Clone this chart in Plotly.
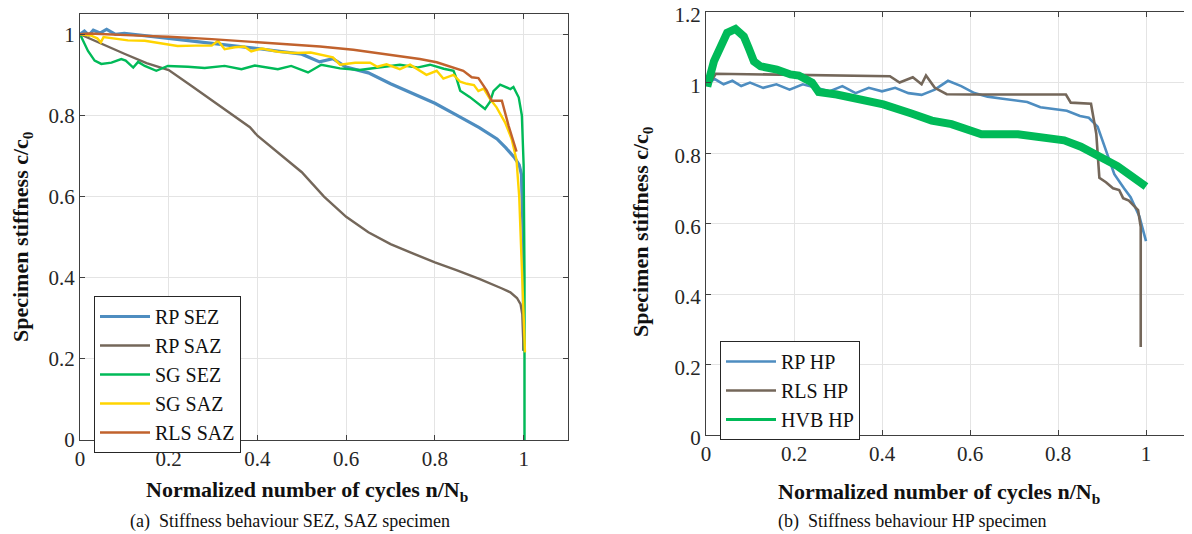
import plotly.graph_objects as go

# ---- (a) SEZ / SAZ specimens ----
rp_sez_x = [0, 0.01, 0.02, 0.03, 0.045, 0.06, 0.08, 0.1, 0.15, 0.2, 0.25, 0.3, 0.35, 0.4, 0.45, 0.5,
            0.54, 0.57, 0.6, 0.65, 0.7, 0.75, 0.8, 0.85, 0.9, 0.94, 0.96, 0.98, 0.99, 0.995, 0.999, 1.0]
rp_sez_y = [1.0, 1.008, 0.998, 1.01, 1.003, 1.012, 1.0, 1.002, 0.996, 0.99, 0.984, 0.977, 0.972, 0.965, 0.958, 0.951,
            0.932, 0.94, 0.919, 0.905, 0.878, 0.855, 0.83, 0.8, 0.77, 0.742, 0.72, 0.695, 0.678, 0.655, 0.5, 0.22]

rp_saz_x = [0, 0.05, 0.1, 0.15, 0.2, 0.25, 0.3, 0.35, 0.383, 0.4, 0.45, 0.5, 0.55, 0.6, 0.65, 0.7,
            0.75, 0.8, 0.85, 0.9, 0.95, 0.97, 0.985, 0.993, 0.997, 1.0]
rp_saz_y = [1.0, 0.975, 0.952, 0.929, 0.912, 0.874, 0.835, 0.795, 0.771, 0.75, 0.705, 0.66, 0.6, 0.55, 0.512, 0.483,
            0.46, 0.438, 0.418, 0.397, 0.374, 0.364, 0.35, 0.335, 0.31, 0.22]

sg_sez_x = [0, 0.01, 0.018, 0.033, 0.048, 0.071, 0.093, 0.103, 0.12, 0.131, 0.146, 0.172, 0.198, 0.243, 0.281,
            0.326, 0.364, 0.394, 0.42, 0.446, 0.476, 0.514, 0.544, 0.586, 0.63, 0.691, 0.721, 0.76, 0.789, 0.82,
            0.842, 0.849, 0.857, 0.879, 0.902, 0.913, 0.924, 0.932, 0.947, 0.958, 0.97, 0.977, 0.989, 0.996,
            1.0, 1.002, 1.002]
sg_sez_y = [1.0, 0.975, 0.959, 0.935, 0.927, 0.93, 0.939, 0.935, 0.918, 0.932, 0.922, 0.91, 0.922, 0.92, 0.917,
            0.922, 0.914, 0.923, 0.918, 0.914, 0.922, 0.906, 0.925, 0.916, 0.912, 0.92, 0.925, 0.918, 0.925, 0.915,
            0.91, 0.89, 0.861, 0.845, 0.824, 0.816, 0.833, 0.86, 0.876, 0.87, 0.865, 0.87, 0.844, 0.8,
            0.677, 0.4, 0.0]

sg_saz_x = [0, 0.024, 0.039, 0.047, 0.053, 0.071, 0.108, 0.146, 0.198, 0.22, 0.26, 0.297, 0.311, 0.326, 0.349,
            0.37, 0.386, 0.41, 0.446, 0.484, 0.52, 0.553, 0.57, 0.586, 0.62, 0.654, 0.67, 0.691, 0.721, 0.744,
            0.766, 0.781, 0.804, 0.819, 0.842, 0.857, 0.872, 0.888, 0.898, 0.91, 0.924, 0.939, 0.958, 0.973,
            0.984, 0.99, 1.003]
sg_saz_y = [1.0, 0.997, 0.99, 0.98, 0.993, 0.99, 0.985, 0.984, 0.975, 0.971, 0.972, 0.972, 0.984, 0.963, 0.968,
            0.97, 0.958, 0.965, 0.957, 0.954, 0.955, 0.946, 0.943, 0.925, 0.93, 0.93, 0.92, 0.926, 0.914, 0.925,
            0.91, 0.9, 0.91, 0.891, 0.9, 0.883, 0.878, 0.875, 0.86, 0.866, 0.841, 0.82, 0.783, 0.742,
            0.69, 0.6, 0.216]

rls_saz_x = [0, 0.02, 0.146, 0.2, 0.297, 0.4, 0.446, 0.541, 0.616, 0.691, 0.766, 0.804, 0.842, 0.864, 0.883,
             0.898, 0.917, 0.928, 0.951, 0.966, 0.984]
rls_saz_y = [1.0, 1.002, 0.996, 0.994, 0.988, 0.981, 0.977, 0.97, 0.962, 0.951, 0.939, 0.931, 0.918, 0.91, 0.894,
             0.892, 0.861, 0.836, 0.836, 0.775, 0.711]

# ---- (b) HP specimens ----
rp_hp_x = [0.005, 0.02, 0.04, 0.06, 0.08, 0.1, 0.13, 0.16, 0.19, 0.22, 0.25, 0.28, 0.31, 0.34, 0.37, 0.4, 0.43,
           0.46, 0.49, 0.52, 0.55, 0.58, 0.61, 0.64, 0.67, 0.7, 0.73, 0.76, 0.79, 0.82, 0.85, 0.87, 0.89, 0.905,
           0.928, 0.95, 0.965, 0.985, 1.0]
rp_hp_y = [1.0, 1.01, 0.995, 1.005, 0.99, 1.0, 0.985, 0.995, 0.98, 0.995, 0.985, 0.975, 0.99, 0.97, 0.985, 0.975,
           0.985, 0.97, 0.965, 0.98, 1.005, 0.99, 0.97, 0.96, 0.955, 0.95, 0.945, 0.93, 0.925, 0.92, 0.905, 0.9,
           0.875, 0.82, 0.74, 0.7, 0.675, 0.62, 0.55]

rls_hp_x = [0.005, 0.01, 0.022, 0.2, 0.418, 0.44, 0.47, 0.49, 0.5, 0.52, 0.547, 0.6, 0.818, 0.829, 0.875, 0.887,
            0.894, 0.909, 0.925, 0.939, 0.948, 0.961, 0.971, 0.982, 0.988, 0.988]
rls_hp_y = [1.0, 1.0, 1.025, 1.022, 1.018, 1.0, 1.015, 0.995, 1.02, 0.985, 0.967, 0.966, 0.966, 0.943, 0.94, 0.855,
            0.73, 0.717, 0.70, 0.695, 0.672, 0.665, 0.652, 0.638, 0.59, 0.25]

hvb_hp_x = [0.0, 0.005, 0.018, 0.033, 0.048, 0.067, 0.086, 0.097, 0.109, 0.124, 0.161, 0.192, 0.211, 0.241, 0.256,
            0.297, 0.35, 0.403, 0.467, 0.513, 0.558, 0.603, 0.626, 0.709, 0.769, 0.814, 0.852, 0.89, 0.935,
            0.965, 0.995, 1.0]
hvb_hp_y = [1.0, 0.999, 1.06, 1.103, 1.141, 1.152, 1.131, 1.098, 1.06, 1.046, 1.037, 1.023, 1.02, 1.0, 0.973,
            0.966, 0.952, 0.938, 0.912, 0.892, 0.882, 0.862, 0.853, 0.853, 0.845, 0.836, 0.818, 0.795, 0.763,
            0.736, 0.71, 0.705]

ticks01 = [0, 0.2, 0.4, 0.6, 0.8, 1]
ticks12 = [0, 0.2, 0.4, 0.6, 0.8, 1, 1.2]
tick_text01 = ["0", "0.2", "0.4", "0.6", "0.8", "1"]
tick_text12 = ["0", "0.2", "0.4", "0.6", "0.8", "1", "1.2"]

BLUE = "#4E8DC0"
BROWN = "#74675A"
GREEN = "#00BA58"
YELLOW = "#FFD400"
ORANGE = "#C1622D"
FONT = "Liberation Serif"

# page has the browser's 8px body margin, so the figure is 8px smaller and positions are page pixels
OFF = 8
W, H = 1192 - OFF, 534 - OFF


def xp(px):
    return (px - OFF) / W


def yp(py):
    return 1 - (py - OFF) / H


fig = go.Figure()

left = [("RP SEZ", rp_sez_x, rp_sez_y, BLUE, 3.2),
        ("RP SAZ", rp_saz_x, rp_saz_y, BROWN, 2.4),
        ("SG SEZ", sg_sez_x, sg_sez_y, GREEN, 2.4),
        ("SG SAZ", sg_saz_x, sg_saz_y, YELLOW, 2.4),
        ("RLS SAZ", rls_saz_x, rls_saz_y, ORANGE, 2.4)]
for name, xs, ys, col, w in left:
    fig.add_trace(go.Scatter(x=xs, y=ys, mode="lines", name=name, line=dict(color=col, width=w),
                             xaxis="x", yaxis="y", legend="legend"))

right = [("RP HP", rp_hp_x, rp_hp_y, BLUE, 2.6),
         ("RLS HP", rls_hp_x, rls_hp_y, BROWN, 2.6),
         ("HVB HP", hvb_hp_x, hvb_hp_y, GREEN, 8)]
for name, xs, ys, col, w in right:
    fig.add_trace(go.Scatter(x=xs, y=ys, mode="lines", name=name, line=dict(color=col, width=w),
                             xaxis="x2", yaxis="y2", legend="legend2", showlegend=(w < 5)))
# legend entry for the thick HVB band with a normal line width
fig.add_trace(go.Scatter(x=[None], y=[None], mode="lines", name="HVB HP", line=dict(color=GREEN, width=3),
                         xaxis="x2", yaxis="y2", legend="legend2"))

axis_style = dict(showline=True, linecolor="#404040", linewidth=1, mirror="ticks", ticks="inside",
                  ticklen=5, tickcolor="#404040", showgrid=True, gridcolor="#E4E4E4", gridwidth=1,
                  zeroline=False, automargin=False, tickfont=dict(family=FONT, size=21, color="#262626"))

legend_style = dict(xanchor="left", yanchor="top", bgcolor="white", bordercolor="#262626", borderwidth=1,
                    font=dict(family=FONT, size=20, color="#111"), tracegroupgap=0, itemwidth=50)

fig.update_layout(
    width=W, height=H, margin=dict(l=0, r=0, t=0, b=0),
    paper_bgcolor="white", plot_bgcolor="white",
    font=dict(family=FONT, color="#1a1a1a"),
    xaxis=dict(domain=[xp(80), xp(568)], range=[0, 1.1], tickvals=ticks01, ticktext=tick_text01,
               anchor="y", **axis_style),
    yaxis=dict(domain=[yp(440), yp(14)], range=[0, 1.05], tickvals=ticks01, ticktext=tick_text01,
               anchor="x", **axis_style),
    xaxis2=dict(domain=[xp(706), xp(1190)], range=[0, 1.1], tickvals=ticks01, ticktext=tick_text01,
                anchor="y2", **axis_style),
    yaxis2=dict(domain=[yp(435), yp(12)], range=[0, 1.2002], tickvals=ticks12, ticktext=tick_text12,
                anchor="x2", ticklabeloverflow="allow", ticklabelshift=3, **axis_style),
    legend=dict(x=xp(94), y=yp(296), **legend_style),
    legend2=dict(x=xp(720), y=yp(341), **legend_style),
    showlegend=True,
)

xtitle = "<b>Normalized number of cycles n/N<sub>b</sub></b>"
ytitle = "<b>Specimen stiffness c/c<sub>0</sub></b>"
notes = [
    dict(text=xtitle, x=307, y=491, textangle=0, size=22),
    dict(text=xtitle, x=939, y=493, textangle=0, size=22),
    dict(text=ytitle, x=22, y=237, textangle=-90, size=22),
    dict(text=ytitle, x=642, y=232, textangle=-90, size=22),
    dict(text="(a)  Stiffness behaviour SEZ, SAZ specimen", x=290, y=521, textangle=0, size=18),
    dict(text="(b)  Stiffness behaviour HP specimen", x=912, y=521, textangle=0, size=18),
]
for n in notes:
    fig.add_annotation(text=n["text"], x=xp(n["x"]), y=yp(n["y"]), xref="paper", yref="paper", showarrow=False,
                       xanchor="center", yanchor="middle", textangle=n["textangle"],
                       font=dict(family=FONT, size=n["size"], color="#111"))

fig.write_html("out.html")
